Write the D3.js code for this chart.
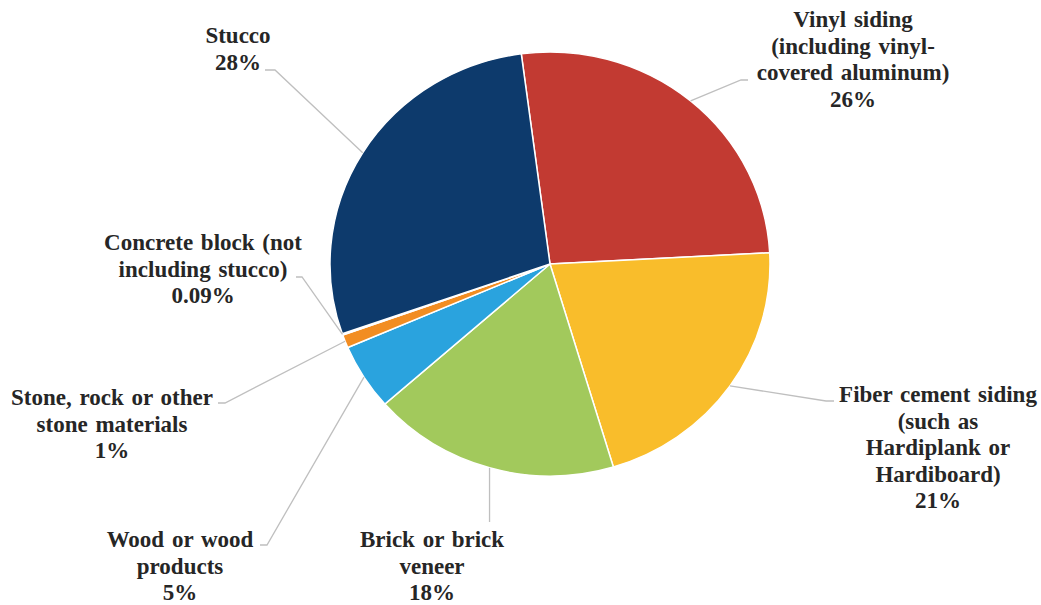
<!DOCTYPE html>
<html lang="en">
    <head>
        <meta charset="UTF-8" />
        <title>Exterior wall material</title>
        <script src="https://d3js.org/d3.v7.min.js"></script>
        <style>
            body {
                margin: 0;
                padding: 0;
                background: #fff;
            }
            svg text {
                font-family: 'Liberation Serif', 'Times New Roman', serif;
                font-weight: bold;
                font-size: 23px;
                fill: #262626;
                word-spacing: 2px;
            }
            .slice {
                stroke: #fff;
                stroke-width: 1.5px;
            }
            .leader {
                fill: none;
                stroke: #bfbfbf;
                stroke-width: 1.3px;
            }
        </style>
    </head>
    <body>
        <svg id="chart" width="1041" height="605"></svg>

        <script>
            // slices, clockwise from the top
            const categories = [
                'Vinyl siding',
                'Fiber cement siding',
                'Brick or brick veneer',
                'Wood or wood products',
                'Stone, rock or other stone materials',
                'Concrete block',
                'Stucco',
            ];
            const values = [26, 21, 18, 5, 1, 0.09, 28];
            const labelLines = [
                ['Vinyl siding', '(including vinyl-', 'covered aluminum)'],
                ['Fiber cement siding', '(such as', 'Hardiplank or', 'Hardiboard)'],
                ['Brick or brick', 'veneer'],
                ['Wood or wood', 'products'],
                ['Stone, rock or other', 'stone materials'],
                ['Concrete block (not', 'including stucco)'],
                ['Stucco'],
            ];
            const colors = ['#c23a32', '#f9bd2b', '#a2c95c', '#2aa3de', '#f28d22', '#e9e9e9', '#0d3a6c'];

            // label placement: x centre, first baseline, leader elbow and end
            const layout = {
                'Vinyl siding': { x: 853, y: 27, elbow: [741, 80], end: [748, 80] },
                'Fiber cement siding': { x: 938, y: 402, elbow: [826, 401], end: [834, 401] },
                'Brick or brick veneer': { x: 432, y: 547, elbow: null, end: [null, 522] },
                'Wood or wood products': { x: 180, y: 547, elbow: [267, 545], end: [260, 545] },
                'Stone, rock or other stone materials': { x: 112, y: 405, elbow: [225, 403], end: [218, 403] },
                'Concrete block': { x: 203, y: 250, elbow: [302, 277], end: [296, 277] },
                Stucco: { x: 238, y: 43, elbow: [275, 70], end: [265, 70] },
            };

            const cx = 550,
                cy = 264,
                rx = 220,
                ry = 212;
            const lineHeight = 26.5;

            const data = categories.map((c, i) => ({ name: c, value: values[i], color: colors[i], lines: labelLines[i] }));

            const startAngle = (-7.5 * Math.PI) / 180;
            const pie = d3
                .pie()
                .sort(null)
                .value((d) => d.value)
                .startAngle(startAngle)
                .endAngle(startAngle + 2 * Math.PI);

            const arc = d3.arc().innerRadius(0).outerRadius(rx);
            const arcs = pie(data);

            const svg = d3.select('#chart');

            const g = svg.append('g').attr('transform', `translate(${cx},${cy}) scale(1,${ry / rx})`);

            g.selectAll('path')
                .data(arcs)
                .join('path')
                .attr('class', 'slice')
                .attr('vector-effect', 'non-scaling-stroke')
                .attr('fill', (d) => d.data.color)
                .attr('d', arc);

            // leader lines start on the rim at the middle of each slice
            const rim = (d) => {
                const a = (d.startAngle + d.endAngle) / 2;
                return [cx + rx * Math.sin(a), cy - ry * Math.cos(a)];
            };

            svg.selectAll('.leader')
                .data(arcs)
                .join('path')
                .attr('class', 'leader')
                .attr('d', (d) => {
                    const p = rim(d);
                    const l = layout[d.data.name];
                    const pts = [p];
                    if (l.elbow) pts.push(l.elbow);
                    pts.push([l.end[0] === null ? p[0] : l.end[0], l.end[1]]);
                    return d3.line()(pts);
                });

            const labels = svg
                .selectAll('.label')
                .data(arcs)
                .join('text')
                .attr('class', 'label')
                .attr('text-anchor', 'middle');

            labels.each(function (d) {
                const l = layout[d.data.name];
                const t = d3.select(this);
                const lines = d.data.lines.concat([`${d.data.value}%`]);
                lines.forEach((s, i) => {
                    t.append('tspan')
                        .attr('x', l.x)
                        .attr('y', l.y + i * lineHeight)
                        .text(s);
                });
            });
        </script>
    </body>
</html>
